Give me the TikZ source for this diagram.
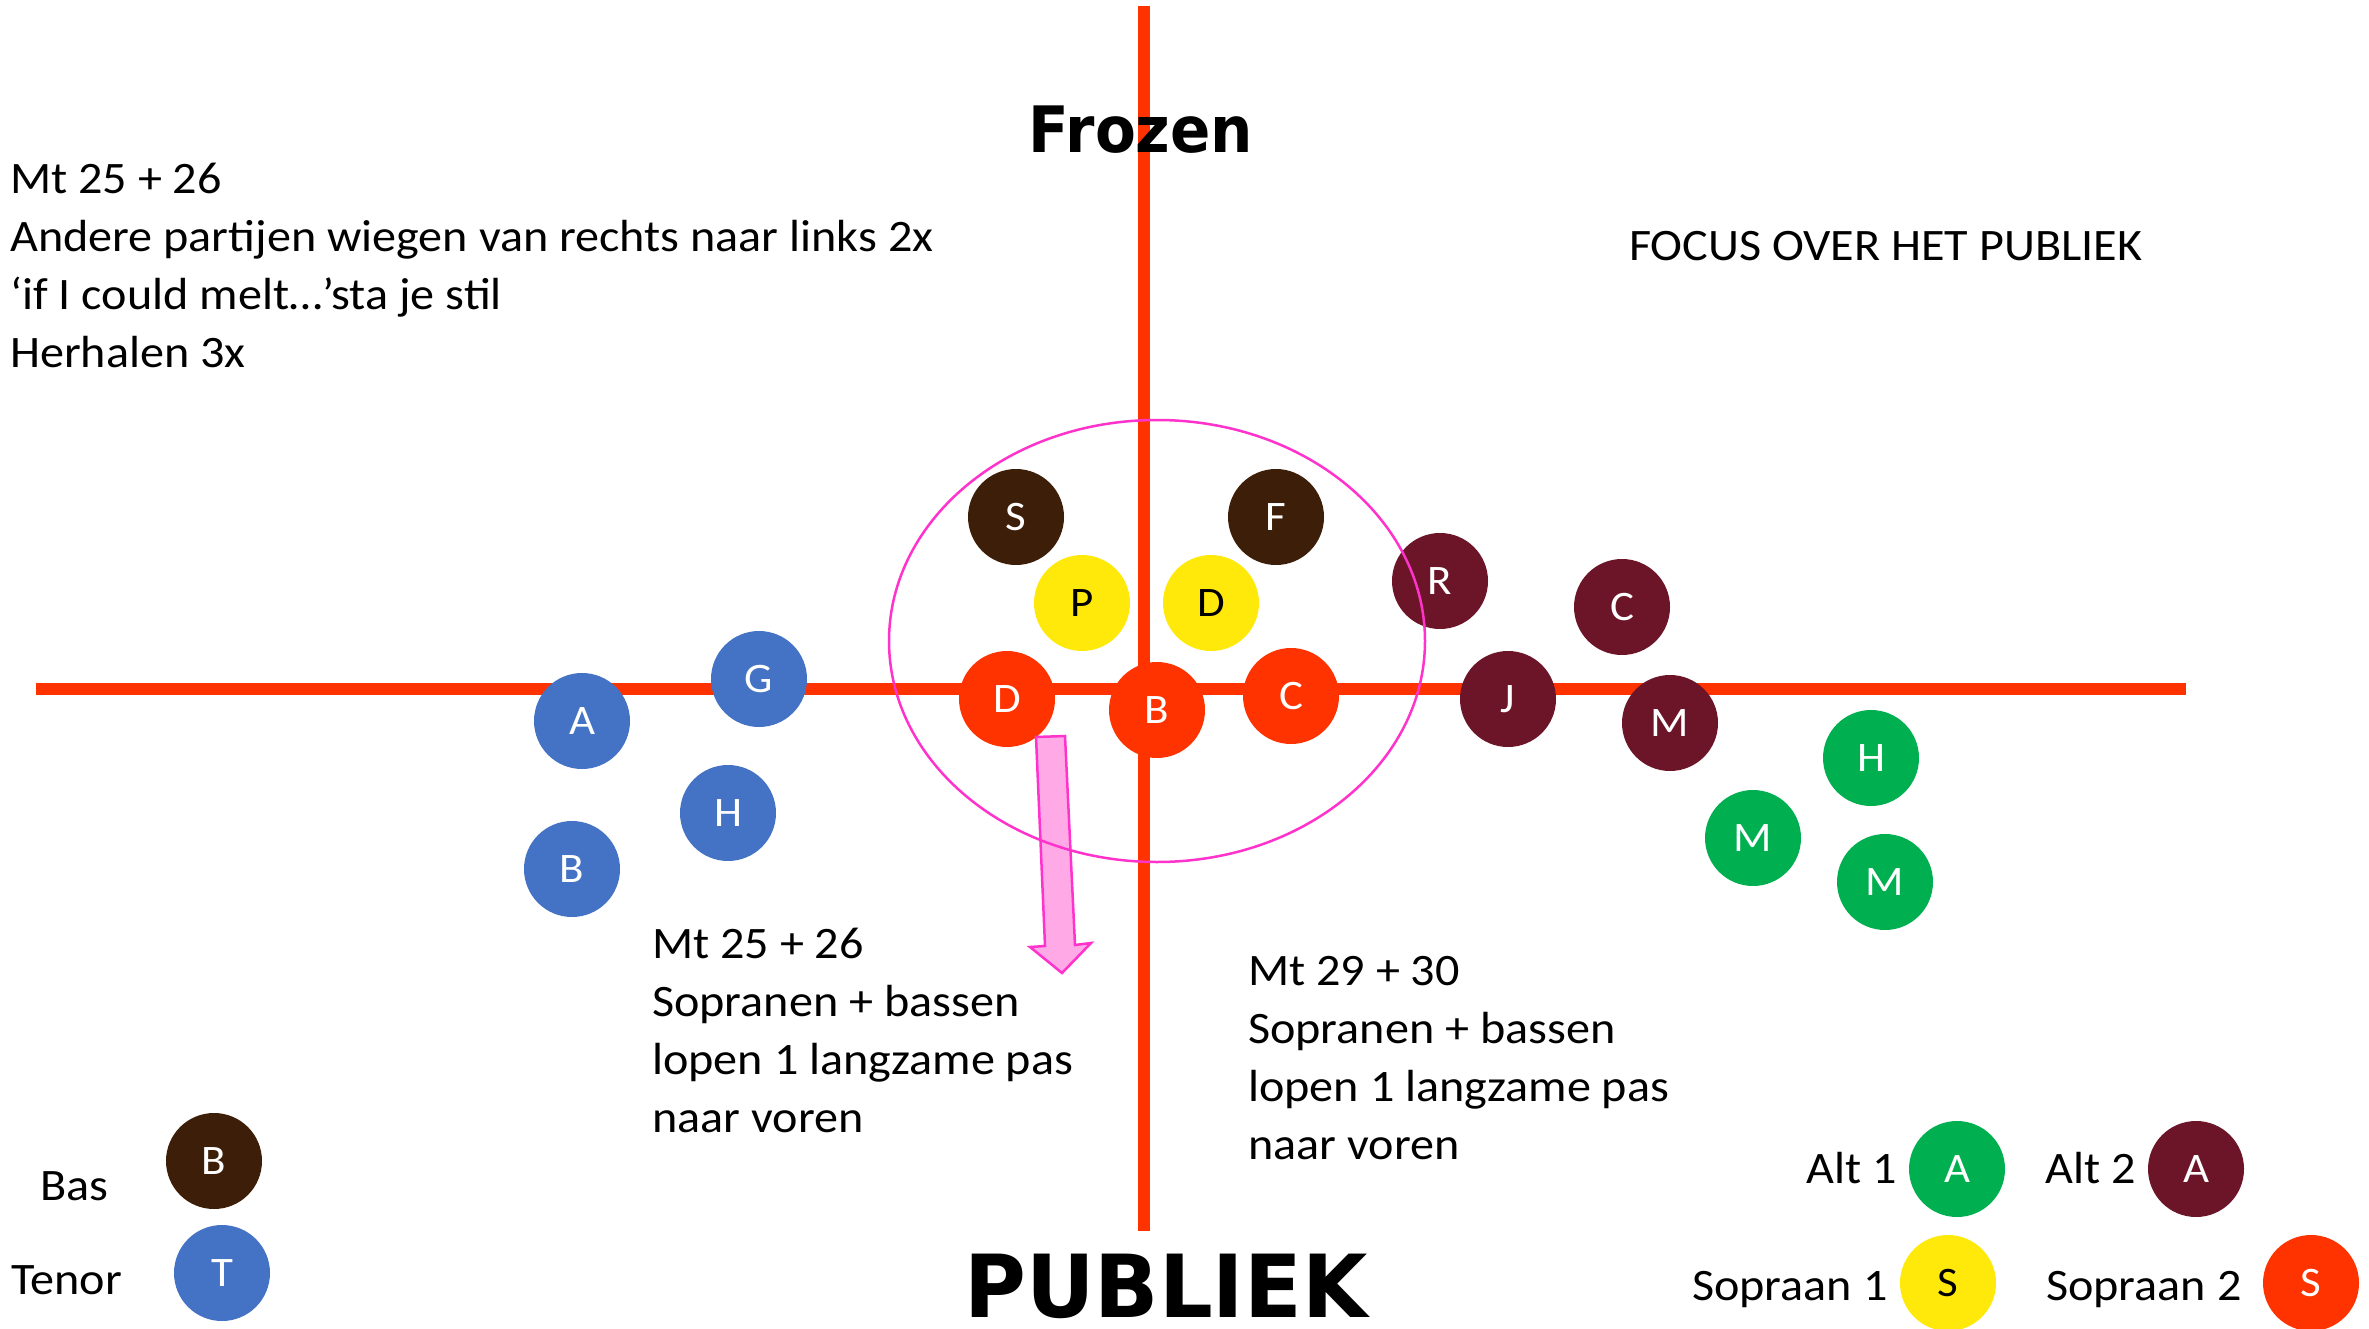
\documentclass[tikz,border=0pt]{standalone}
\usepackage{fontspec}
\setmainfont{Carlito}[FakeStretch=1.07]
\newfontfamily\titlefont{DejaVu Sans}
\definecolor{lineRed}{RGB}{255,51,0}
\definecolor{bassBrown}{RGB}{61,30,8}
\definecolor{tenorBlue}{RGB}{68,114,196}
\definecolor{sopYellow}{RGB}{255,233,10}
\definecolor{altGreen}{RGB}{0,176,80}
\definecolor{altMaroon}{RGB}{108,21,40}
\definecolor{ellMag}{RGB}{255,51,204}
\definecolor{arrowPink}{RGB}{255,170,230}
\begin{document}
\begin{tikzpicture}[x=1pt,y=-1pt,
  singer/.style={circle,minimum size=96pt,inner sep=0pt,draw=none,text=white,
    font=\fontsize{42}{42}\selectfont},
  bas/.style={singer,fill=bassBrown},
  tenor/.style={singer,fill=tenorBlue},
  sopA/.style={singer,fill=sopYellow,text=black},
  sopB/.style={singer,fill=lineRed},
  altA/.style={singer,fill=altGreen},
  altB/.style={singer,fill=altMaroon},
  txt/.style={anchor=base west,inner sep=0pt,font=\fontsize{45}{58}\selectfont},
  axis/.style={draw=lineRed,line width=12pt},
  title/.style={anchor=base,inner sep=0pt,font=\titlefont\bfseries}]
\fill[white] (0,0) rectangle (2369,1329);
\useasboundingbox (0,0) rectangle (2369,1329);
% axes
\coordinate (hL) at (36,689);
\coordinate (hR) at (2186,689);
\coordinate (vT) at (1144,6);
\coordinate (vB) at (1144,1231);
\draw[axis] (hL) -- (hR);
\draw[axis] (vT) -- (vB);
% titles
\node[title,font=\titlefont\bfseries\fontsize{64}{64}\selectfont] (frozen) at (1141,153) {\scalebox{0.93}[1]{Frozen}};
\node[title,font=\titlefont\bfseries\fontsize{87}{87}\selectfont] (publiek) at (1166,1317) {\scalebox{0.97}[1]{PUBLIEK}};
% texts
\node[txt] (tl0) at (10,194) {Mt 25 + 26};
\node[txt] (tl1) at (10,252) {Andere partijen wiegen van rechts naar links 2x};
\node[txt] (tl2) at (10,310) {‘if I could melt…’sta je stil};
\node[txt] (tl3) at (10,368) {Herhalen 3x};
\node[txt] (focus) at (1629,261) {FOCUS OVER HET PUBLIEK};
\node[txt] (ml0) at (652,958) {Mt 25 + 26};
\node[txt] (ml1) at (652,1016) {Sopranen + bassen};
\node[txt] (ml2) at (652,1074) {lopen 1 langzame pas};
\node[txt] (ml3) at (652,1132) {naar voren};
\node[txt] (mr0) at (1248,985) {Mt 29 + 30};
\node[txt] (mr1) at (1248,1043) {Sopranen + bassen};
\node[txt] (mr2) at (1248,1101) {lopen 1 langzame pas};
\node[txt] (mr3) at (1248,1159) {naar voren};
% tenors
\node[tenor] (tA) at (582,721) {A};
\node[tenor] (tG) at (759,679) {G};
\node[tenor] (tH) at (728,813) {H};
\node[tenor] (tB) at (572,869) {B};
% basses
\node[bas] (bS) at (1016,517) {S};
\node[bas] (bF) at (1276,517) {F};
% sopraan 1
\node[sopA] (sP) at (1082,603) {P};
\node[sopA] (sD) at (1211,603) {D};
% sopraan 2
\node[sopB] (rD) at (1007,699) {D};
\node[sopB] (rB) at (1157,710) {B};
\node[sopB] (rC) at (1291,696) {C};
% alt 2
\node[altB] (mR) at (1440,581) {R};
\node[altB] (mC) at (1622,607) {C};
\node[altB] (mJ) at (1508,699) {J};
\node[altB] (mM) at (1670,723) {M};
% alt 1
\node[altA] (gH) at (1871,758) {H};
\node[altA] (gM1) at (1753,838) {M};
\node[altA] (gM2) at (1885,882) {M};
% arrow
\draw[draw=ellMag,line width=2.5pt,fill=arrowPink,line join=miter]
  (1036,737) -- (1065,736) -- (1075,945) -- (1091,943) -- (1062,973)
  -- (1030,947) -- (1045,946) -- cycle;
% ellipse
\draw[ellMag,line width=2.5pt] (1157,641) ellipse [x radius=268, y radius=221];
% legend
\node[txt] (lBas) at (40,1200) {Bas};
\node[bas] (lgB) at (214,1161) {B};
\node[txt] (lTen) at (11,1294) {Tenor};
\node[tenor] (lgT) at (222,1273) {T};
\node[txt] (lAlt1) at (1806,1183) {Alt 1};
\node[altA] (lgA1) at (1957,1169) {A};
\node[txt] (lAlt2) at (2045,1183) {Alt 2};
\node[altB] (lgA2) at (2196,1169) {A};
\node[txt] (lSop1) at (1692,1300) {Sopraan 1};
\node[sopA] (lgS1) at (1948,1283) {S};
\node[txt] (lSop2) at (2046,1300) {Sopraan 2};
\node[sopB] (lgS2) at (2311,1283) {S};
\end{tikzpicture}
\end{document}
